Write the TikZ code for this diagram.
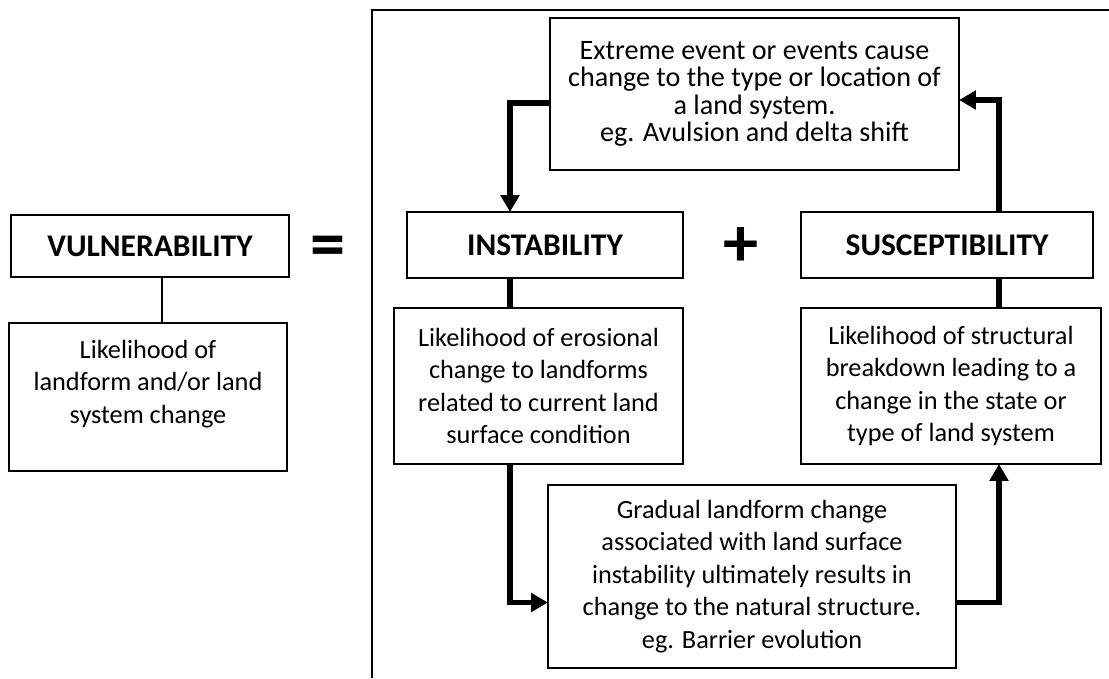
\documentclass[tikz,border=0pt]{standalone}
\usepackage{fontspec}
\setmainfont{Carlito}
\usetikzlibrary{arrows.meta,positioning}
\tikzset{
  base/.style={font=\fontsize{18.7}{23.1}\selectfont, align=center, inner sep=2pt, outer sep=0mm},
  desc/.style={rectangle, draw=black, line width=1.2pt, base},
  head/.style={desc, font=\fontsize{22.4}{26}\selectfont\bfseries},
  sign/.style={font=\fontsize{50}{50}\selectfont\bfseries, inner sep=0pt},
  link/.style={line width=3.8pt, color=black},
  arrow/.style={-{Triangle[length=12pt, width=13pt]}, link},
  frame/.style={line width=1.4pt, color=black}
}

\begin{document}
\begin{tikzpicture}[x=0.025cm, y=-0.025cm]
  \useasboundingbox (0,0) rectangle (1109,678);

  % outer frame, open to the right and bottom
  \draw[frame] (372,678) |- (1109,10);

  \node[head, minimum width=6.95cm, minimum height=1.55cm] (vuln) at (150,246) {VULNERABILITY};
  \node[desc, minimum width=6.95cm, minimum height=3.7cm] (vlike) at (148,397)
    {Likelihood of\\landform and/or land\\system change\\[-8.5pt] \strut};
  \node[sign] (equals) at (328,252) {=};

  \node[desc, minimum width=10.225cm, minimum height=3.8cm, font=\fontsize{20}{19.5}\selectfont] (event) at (754.5,94)
    {Extreme event or events cause\\change to the type or location of\\a land system.\\eg. Avulsion and delta shift};
  \node[head, minimum width=6.9cm, minimum height=1.65cm] (inst) at (545,245) {INSTABILITY};
  \node[sign] (plus) at (741,247) {+};
  \node[head, minimum width=7.3cm, minimum height=1.65cm] (susc) at (947,245) {SUSCEPTIBILITY};
  \node[desc, minimum width=7.225cm, minimum height=3.9cm] (ilike) at (538.5,386)
    {Likelihood of erosional\\change to landforms\\related to current land\\surface condition};
  \node[desc, minimum width=7.5cm, minimum height=3.9cm] (slike) at (951,386)
    {Likelihood of structural\\breakdown leading to a\\change in the state or\\type of land system};
  \node[desc, minimum width=10.2cm, minimum height=4.575cm] (grad) at (752,576.5)
    {Gradual landform change\\associated with land surface\\instability ultimately results in\\change to the natural structure.\\eg. Barrier evolution};

  \draw[line width=0.8pt] ([xshift=0.3cm]vuln.south) -- ([xshift=0.3cm]vuln.south |- vlike.north);

  \draw[arrow] ([yshift=-0.225cm]event.west) -| ([xshift=-0.875cm]inst.north);
  \draw[link] ([xshift=-0.875cm]inst.south) -- ([xshift=-0.875cm]inst.south |- ilike.north);
  \draw[arrow] ([xshift=-0.875cm]inst.south |- ilike.south) |- ([yshift=-0.65cm]grad.west);
  \draw[arrow] ([yshift=-0.65cm]grad.east) -| ([xshift=1.2cm]slike.south);
  \draw[link] ([xshift=1.2cm]slike.north) -- ([xshift=1.2cm]slike.north |- susc.south);
  \draw[arrow] ([xshift=1.2cm]slike.north |- susc.north) |- ([yshift=-0.15cm]event.east);
\end{tikzpicture}
\end{document}
